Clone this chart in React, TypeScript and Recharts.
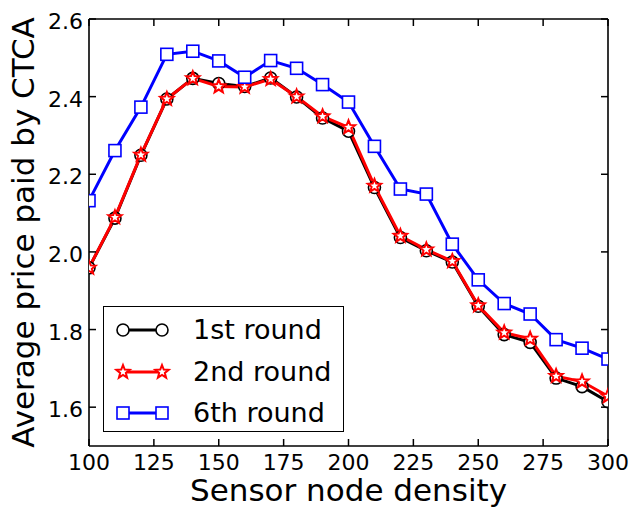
import React from 'react';
import { Legend, Line, LineChart, XAxis, YAxis } from 'recharts';

const densities = [100, 110, 120, 130, 140, 150, 160, 170, 180, 190, 200, 210, 220, 230, 240, 250, 260, 270, 280, 290, 300];
const firstRound = [1.959, 2.087, 2.249, 2.394, 2.447, 2.434, 2.426, 2.448, 2.399, 2.345, 2.311, 2.166, 2.037, 2.003, 1.974, 1.860, 1.787, 1.767, 1.675, 1.653, 1.614];
const secondRound = [1.959, 2.089, 2.250, 2.394, 2.447, 2.426, 2.425, 2.445, 2.400, 2.349, 2.321, 2.170, 2.041, 2.006, 1.976, 1.862, 1.792, 1.776, 1.680, 1.666, 1.628];
const sixthRound = [2.132, 2.261, 2.373, 2.509, 2.517, 2.492, 2.450, 2.493, 2.473, 2.431, 2.386, 2.272, 2.162, 2.149, 2.020, 1.928, 1.867, 1.840, 1.774, 1.752, 1.724];

const xTicks = [100, 125, 150, 175, 200, 225, 250, 275, 300];
const yTicks = [1.6, 1.8, 2.0, 2.2, 2.4, 2.6];

const FONT = '"DejaVu Sans", sans-serif';
const TICK_LEN = 7;

const chartData = densities.map((d, i) => ({
  density: d,
  first: firstRound[i],
  second: secondRound[i],
  sixth: sixthRound[i],
}));

function starPath(cx: number, cy: number, R: number, r: number) {
  const pts: string[] = [];
  for (let k = 0; k < 10; k++) {
    const rad = k % 2 === 0 ? R : r;
    const a = -Math.PI / 2 + (k * Math.PI) / 5;
    pts.push(`${cx + rad * Math.cos(a)},${cy + rad * Math.sin(a)}`);
  }
  return `M${pts.join('L')}Z`;
}

function Marker({ kind, cx, cy }: { kind: string; cx: number; cy: number }) {
  if (kind === 'first') {
    return <circle cx={cx} cy={cy} r={6} fill="#fff" stroke="#000" strokeWidth={1.6} />;
  }
  if (kind === 'second') {
    return <path d={starPath(cx, cy, 7, 3)} fill="#fff" stroke="#ff0000" strokeWidth={2} strokeLinejoin="miter" />;
  }
  return <rect x={cx - 6} y={cy - 6} width={12} height={12} fill="#fff" stroke="#0000ff" strokeWidth={1.6} />;
}

const dotFor = (kind: string) => (props: any) => (
  <Marker key={`${kind}-${props.index}`} kind={kind} cx={props.cx} cy={props.cy} />
);

const BottomTick = ({ x, y, payload }: any) => (
  <g>
    <line x1={x} x2={x} y1={y} y2={y - TICK_LEN} stroke="#000" strokeWidth={1.5} />
    <text x={x} y={y + 24} textAnchor="middle" fontSize={22} fontFamily={FONT} fill="#000">
      {payload.value}
    </text>
  </g>
);

const TopTick = ({ x, y }: any) => (
  <line x1={x} x2={x} y1={y} y2={y + TICK_LEN} stroke="#000" strokeWidth={1.5} />
);

const LeftTick = ({ x, y, payload }: any) => (
  <g>
    <line x1={x} x2={x + TICK_LEN} y1={y} y2={y} stroke="#000" strokeWidth={1.5} />
    <text x={x - 6} y={y + 10} textAnchor="end" fontSize={22} fontFamily={FONT} fill="#000">
      {Number(payload.value).toFixed(1)}
    </text>
  </g>
);

const RightTick = ({ x, y }: any) => (
  <line x1={x} x2={x - TICK_LEN} y1={y} y2={y} stroke="#000" strokeWidth={1.5} />
);

const legendColors: Record<string, string> = { first: '#000', second: '#ff0000', sixth: '#0000ff' };
const legendRows = [23, 64.5, 105.5];

function renderLegend({ payload }: any) {
  return (
    <div
      style={{
        position: 'relative',
        width: 241,
        height: 126,
        boxSizing: 'border-box',
        border: '1.5px solid #000',
        background: '#fff',
        fontFamily: FONT,
      }}
    >
      {(payload || []).map((entry: any, i: number) => (
        <div key={entry.dataKey} style={{ position: 'absolute', left: 0, top: legendRows[i] - 20, height: 40, width: 240 }}>
          <svg width={80} height={40} style={{ position: 'absolute', left: 0, top: 0 }}>
            <line x1={19} x2={58} y1={20} y2={20} stroke={legendColors[entry.dataKey]} strokeWidth={3} />
            <Marker kind={entry.dataKey} cx={19} cy={20} />
            <Marker kind={entry.dataKey} cx={58} cy={20} />
          </svg>
          <span
            style={{
              position: 'absolute',
              left: 89,
              top: 0,
              lineHeight: '40px',
              fontSize: 27,
              color: '#000',
              whiteSpace: 'nowrap',
            }}
          >
            {entry.value}
          </span>
        </div>
      ))}
    </div>
  );
}

export default function App() {
  return (
    <div style={{ position: 'absolute', left: 0, top: 0, width: 631, height: 508, background: '#fff' }}>
      <LineChart
        width={631}
        height={508}
        data={chartData}
        margin={{ top: 18, right: 22, bottom: 0, left: 0 }}
        style={{ fontFamily: FONT }}
      >
        <XAxis
          dataKey="density"
          type="number"
          domain={[100, 300]}
          ticks={xTicks}
          height={62}
          tickSize={0}
          tickMargin={0}
          tickLine={false}
          tick={BottomTick}
          interval={0}
          axisLine={{ stroke: '#000', strokeWidth: 1.6 }}
          allowDataOverflow
          label={{ value: 'Sensor node density', position: 'insideBottom', offset: 7, fontSize: 31, fill: '#000', fontFamily: FONT }}
        />
        <XAxis
          xAxisId="top"
          orientation="top"
          dataKey="density"
          type="number"
          domain={[100, 300]}
          ticks={xTicks}
          height={1}
          tickSize={0}
          tickMargin={0}
          tickLine={false}
          tick={TopTick}
          interval={0}
          axisLine={{ stroke: '#000', strokeWidth: 1.6 }}
          allowDataOverflow
        />
        <YAxis
          type="number"
          domain={[1.5, 2.6]}
          ticks={yTicks}
          width={89}
          tickSize={0}
          tickMargin={0}
          tickLine={false}
          tick={LeftTick}
          interval={0}
          axisLine={{ stroke: '#000', strokeWidth: 1.6 }}
          allowDataOverflow
          label={{
            value: 'Average price paid by CTCA',
            angle: -90,
            position: 'insideLeft',
            offset: 23,
            fontSize: 31,
            fill: '#000',
            fontFamily: FONT,
            style: { textAnchor: 'middle' },
          }}
        />
        <YAxis
          yAxisId="right"
          orientation="right"
          type="number"
          domain={[1.5, 2.6]}
          ticks={yTicks}
          width={1}
          tickSize={0}
          tickMargin={0}
          tickLine={false}
          tick={RightTick}
          interval={0}
          axisLine={{ stroke: '#000', strokeWidth: 1.6 }}
          allowDataOverflow
        />
        <Line
          dataKey="first"
          name="1st round"
          stroke="#000"
          strokeWidth={3}
          dot={dotFor('first')}
          activeDot={false}
          isAnimationActive={false}
        />
        <Line
          dataKey="second"
          name="2nd round"
          stroke="#ff0000"
          strokeWidth={3}
          dot={dotFor('second')}
          activeDot={false}
          isAnimationActive={false}
        />
        <Line
          dataKey="sixth"
          name="6th round"
          stroke="#0000ff"
          strokeWidth={3}
          dot={dotFor('sixth')}
          activeDot={false}
          isAnimationActive={false}
        />
        <Legend
          layout="vertical"
          align="center"
          verticalAlign="middle"
          content={renderLegend}
          wrapperStyle={{ position: 'absolute', left: 103, top: 306, width: 241, height: 126 }}
        />
      </LineChart>
    </div>
  );
}
